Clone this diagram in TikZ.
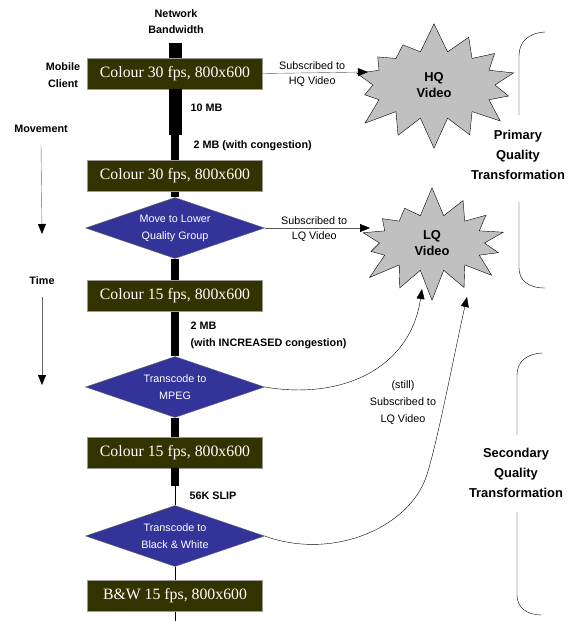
\documentclass[tikz,border=0pt]{standalone}
\usepackage{fontspec}
\setmainfont{Liberation Sans}
\newfontfamily\boxfont{Liberation Serif}
\usetikzlibrary{shapes.geometric,shapes.symbols,arrows.meta}
\definecolor{olivebox}{RGB}{51,51,0}
\definecolor{bluedia}{RGB}{51,51,153}
\definecolor{burst}{RGB}{192,192,192}

\begin{document}
\begin{tikzpicture}[x=1pt, y=-1pt,
  framebox/.style={draw=black!40, fill=olivebox, text=white, minimum width=175pt, minimum height=31pt, inner sep=0pt, font=\boxfont\fontsize{15.8}{18}\selectfont},
  decide/.style={diamond, draw=black!60, fill=bluedia, text=white, aspect=2.9, minimum width=179pt, minimum height=61pt, inner sep=0pt, align=center, font=\fontsize{10.8}{17}\selectfont},
  burstnode/.style={starburst, starburst points=14, starburst point height=30pt, random starburst=7, draw=black, fill=burst, align=center, font=\bfseries\fontsize{12.9}{16}\selectfont},
  lab/.style={align=center, font=\fontsize{10.8}{17}\selectfont},
  blab/.style={align=center, font=\bfseries\fontsize{10.8}{16.5}\selectfont},
  biglab/.style={align=center, font=\bfseries\fontsize{12.9}{20}\selectfont},
  tip/.style={-{Triangle[length=10pt,width=8pt,color=black]}}
]
\useasboundingbox (0,0) rectangle (568,621);

% Side labels
\node[blab] (netbw) at (176,21.5) {Network\\Bandwidth};
\node[blab] (mobile) at (63,75) {Mobile\\Client};
\node[blab] (move) at (41,129) {Movement};
\node[blab] (time) at (42,281) {Time};
\coordinate (moveend) at (42,234);
\coordinate (timeend) at (42,385);
\draw[tip, black!60] ([yshift=-8pt]move.south) -- (moveend);
\draw[tip, black!60] ([yshift=-8pt]time.south) -- (timeend);

% States and transformations
\node[framebox] (c30a) at (175,73.5) {Colour 30 fps, 800x600};
\node[framebox] (c30b) at (175,176) {Colour 30 fps, 800x600};
\node[decide] (lower) at (175,228) {Move to Lower\\Quality Group};
\node[framebox] (c15a) at (175,296) {Colour 15 fps, 800x600};
\node[decide] (mpeg) at (175,387) {Transcode to\\MPEG};
\node[framebox] (c15b) at (175,452.5) {Colour 15 fps, 800x600};
\node[decide] (bw) at (175,536) {Transcode to\\Black \& White};
\node[framebox] (bwbox) at (175,596) {B\&W 15 fps, 800x600};

% Video groups
\node[burstnode, minimum width=182pt, minimum height=128pt] (hq) at (434,85) {HQ\\Video};
\node[burstnode, minimum width=165pt, minimum height=116pt] (lq) at (432,243) {LQ\\Video};

% Bandwidth stem
\coordinate (bwtop) at (175,43);
\coordinate (congest) at (175,135);
\coordinate (slip) at (175,486);
\coordinate (bottom) at (175,621);
\draw[line width=13pt] (bwtop) -- (c30a.north);
\draw[line width=13pt] (c30a.south) -- (congest);
\draw[line width=8pt] (congest) -- (c30b.north);
\draw[line width=8pt] (c30b.south) -- (lower.north);
\draw[line width=8pt] (lower.south) -- (c15a.north);
\draw[line width=8pt] (c15a.south) -- (mpeg.north);
\draw[line width=8pt] (mpeg.south) -- (c15b.north);
\draw[line width=8pt] (c15b.south) -- (slip);
\draw (slip) -- (bw.north);
\draw (bw.south) -- (bwbox.north);
\draw (bwbox.south) -- (bottom);

\node[blab, anchor=west] (tenmb) at (187,108) {10 MB};
\node[blab, anchor=west] (twomb) at (190,146) {2 MB (with congestion)};
\node[blab, anchor=west, align=left] (incr) at (187,335.5) {2 MB\\(with INCREASED congestion)};
\node[blab, anchor=west] (slk) at (186,496) {56K SLIP};

% Subscriptions
\coordinate (hqin) at (368,72);
\coordinate (lqin) at (370,228);
\coordinate (lqmpeg) at (422,289);
\coordinate (lqbw) at (467,297);
\draw[tip, draw=black!65] (c30a.east) -- node[lab, pos=0.47, above] {Subscribed to} node[lab, pos=0.47, below] {HQ Video} (hqin);
\draw[tip, draw=black!65] (lower.east) -- node[lab, pos=0.47, above] {Subscribed to} node[lab, pos=0.47, below] {LQ Video} (lqin);
\draw[tip] (mpeg.east) .. controls (340,400) and (410,370) .. (lqmpeg);
\draw[tip] (bw.east) .. controls (330,560) and (405,530) .. (425,480) .. controls (435,455) and (455,350) .. (lqbw);
\node[lab] (still) at (403,403) {(still)\\Subscribed to\\LQ Video};

% Brackets
\node[biglab] (primary) at (518,155) {Primary\\Quality\\Transformation};
\node[biglab] (secondary) at (516,473) {Secondary\\Quality\\Transformation};
\draw (545,32) .. controls (528,33) and (519,42) .. (519,56) -- (519,115);
\draw (519,202) -- (519,268) .. controls (519,280) and (528,288) .. (545,288);
\draw (542,353) .. controls (526,354) and (517,362) .. (517,375) -- (517,435);
\draw (517,512) -- (517,595) .. controls (517,607) and (526,615) .. (542,615);
\end{tikzpicture}
\end{document}
